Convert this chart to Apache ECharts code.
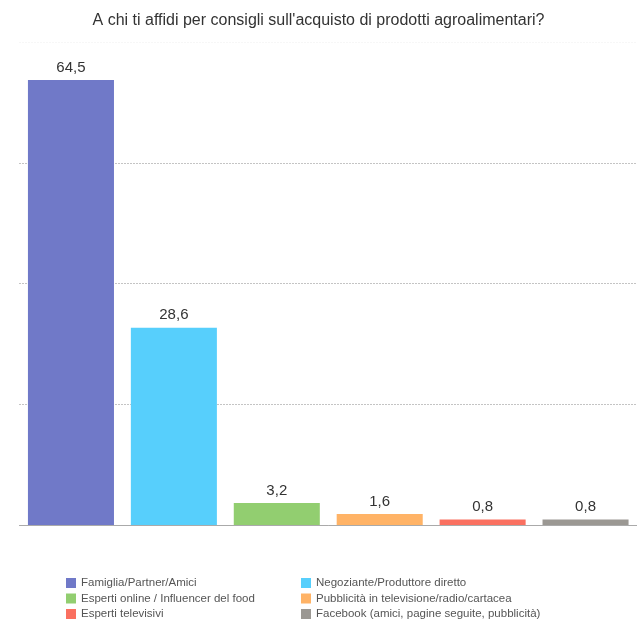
<!DOCTYPE html>
<html><head><meta charset="utf-8">
<script src="https://cdn.jsdelivr.net/npm/echarts@6/dist/echarts.min.js"></script>
<style>html,body{margin:0;padding:0;background:#fff}#c{width:637px;height:623px}</style>
</head><body><div id="c"></div>
<script>
const categories = ["Famiglia/Partner/Amici","Negoziante/Produttore diretto","Esperti online / Influencer del food","Pubblicità in televisione/radio/cartacea","Esperti televisivi","Facebook (amici, pagine seguite, pubblicità)"];
const values = [64.5, 28.6, 3.2, 1.6, 0.8, 0.8];
const colors = ["#7079C8","#57CFFC","#92CE70","#FFB366","#FA7060","#9B9893"];
const yTicks = {min: 0, max: 70, interval: 17.5};

const font = "Helvetica, 'Liberation Sans', Arial, sans-serif";
const series = categories.map((name, i) => ({
  name: name,
  type: 'bar',
  barGap: '-100%',
  barCategoryGap: '16.4%',
  data: values.map((v, j) => j === i ? v : null),
  itemStyle: {color: colors[i]},
  label: {show: true, position: 'top', distance: 5, color: '#333', fontSize: 15, fontFamily: font,
    formatter: p => String(p.value).replace('.', ',')}
}));

const legendText = {fontSize: 11.5, color: '#555', fontFamily: font};
const chart = echarts.init(document.getElementById('c'));
chart.setOption({
  animation: false,
  title: {text: "A chi ti affidi per consigli sull'acquisto di prodotti agroalimentari?", left: 'center', top: 8,
    textStyle: {fontSize: 16, fontWeight: 'normal', color: '#333', fontFamily: font}},
  grid: {left: 19.5, right: 0, top: 42, bottom: 98},
  xAxis: {type: 'category', data: categories, axisTick: {show: false}, axisLabel: {show: false},
    axisLine: {lineStyle: {color: '#aaa', width: 1}}},
  yAxis: {type: 'value', min: yTicks.min, max: yTicks.max, interval: yTicks.interval, axisLabel: {show: false},
    axisLine: {show: false}, axisTick: {show: false},
    splitLine: {lineStyle: {color: ['#aaa', '#888', '#888', '#888', '#eeeeee'], type: [1, 2], width: 1}}},
  legend: [
    {orient: 'vertical', left: 61, top: 572, height: 60, padding: 5, itemWidth: 10, itemHeight: 10, itemGap: 3.5,
     data: [categories[0], categories[2], categories[4]], icon: 'rect', textStyle: legendText},
    {orient: 'vertical', left: 296, top: 572, height: 60, padding: 5, itemWidth: 10, itemHeight: 10, itemGap: 3.5,
     data: [categories[1], categories[3], categories[5]], icon: 'rect', textStyle: legendText}
  ],
  series: series
});
</script></body></html>
